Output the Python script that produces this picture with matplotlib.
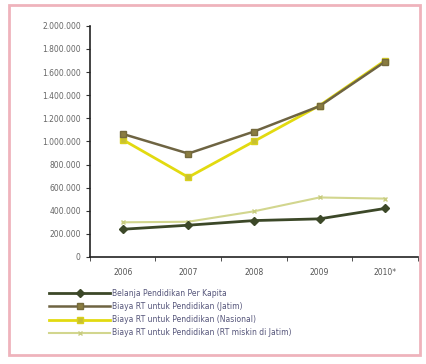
import matplotlib
matplotlib.use("Agg")
import matplotlib.pyplot as plt
from matplotlib.patches import Rectangle
from matplotlib.ticker import FuncFormatter, FixedLocator

# data
years = ["2006", "2007", "2008", "2009", "2010*"]
belanja_per_kapita = [240000, 275000, 315000, 330000, 420000]
biaya_jatim = [1065000, 895000, 1085000, 1305000, 1690000]
biaya_nasional = [1015000, 690000, 1000000, 1310000, 1700000]
biaya_miskin_jatim = [300000, 305000, 395000, 515000, 505000]

labels = [
    "Belanja Pendidikan Per Kapita",
    "Biaya RT untuk Pendidikan (Jatim)",
    "Biaya RT untuk Pendidikan (Nasional)",
    "Biaya RT untuk Pendidikan (RT miskin di Jatim)",
]

fig = plt.figure(figsize=(4.26, 3.64), dpi=100)
ax = fig.add_axes([0.211, 0.294, 0.770, 0.635])

x = list(range(len(years)))

ax.plot(x, biaya_miskin_jatim, color="#d2d68e", lw=1.5, marker="x", ms=3,
        mec="#c8cc80", label=labels[3], zorder=2)
ax.plot(x, biaya_nasional, color="#e2da10", lw=2.0, marker="s", ms=4.2,
        mfc="#c8c030", mec="#d8d020", label=labels[2], zorder=3)
ax.plot(x, biaya_jatim, color="#6e6442", lw=1.8, marker="s", ms=4.5,
        mfc="#8a7c40", mec="#756a3c", label=labels[1], zorder=4)
ax.plot(x, belanja_per_kapita, color="#3c4828", lw=2.0, marker="D", ms=4.2,
        mfc="#3c4828", mec="#3c4828", label=labels[0], zorder=5)

ax.set_xlim(-0.5, len(years) - 0.5)
ax.set_ylim(0, 2000000)
ax.set_yticks(range(0, 2000001, 200000))
ax.yaxis.set_major_formatter(FuncFormatter(
    lambda v, p: "0" if v == 0 else f"{int(v):,}".replace(",", ".")))
ax.set_xticks(x)
ax.set_xticklabels(years)
ax.xaxis.set_minor_locator(FixedLocator([i - 0.5 for i in range(len(years) + 1)]))
ax.tick_params(axis="x", which="major", length=0, pad=8, labelsize=5.5, labelcolor="#555555")
ax.tick_params(axis="x", which="minor", length=3, direction="out", color="#333333")
ax.tick_params(axis="y", length=3, labelsize=5.5, labelcolor="#666666", color="#333333")

for s in ["top", "right"]:
    ax.spines[s].set_visible(False)
for s in ["left", "bottom"]:
    ax.spines[s].set_color("#222222")
    ax.spines[s].set_linewidth(1.2)

handles, labs = ax.get_legend_handles_labels()
order = [3, 2, 1, 0]
fig.legend([handles[i] for i in order], [labs[i] for i in order],
           loc="upper left", bbox_to_anchor=(0.108, 0.215), frameon=False,
           fontsize=5.5, handlelength=8, labelspacing=0.55, handletextpad=0.3,
           borderaxespad=0, labelcolor="#55557a")

# pink frame around the figure
fig.patches.append(Rectangle((0.02, 0.025), 0.965, 0.96, transform=fig.transFigure,
                             fill=False, edgecolor="#efb3bc", lw=2.0))

fig.savefig("out.png", dpi=100)
